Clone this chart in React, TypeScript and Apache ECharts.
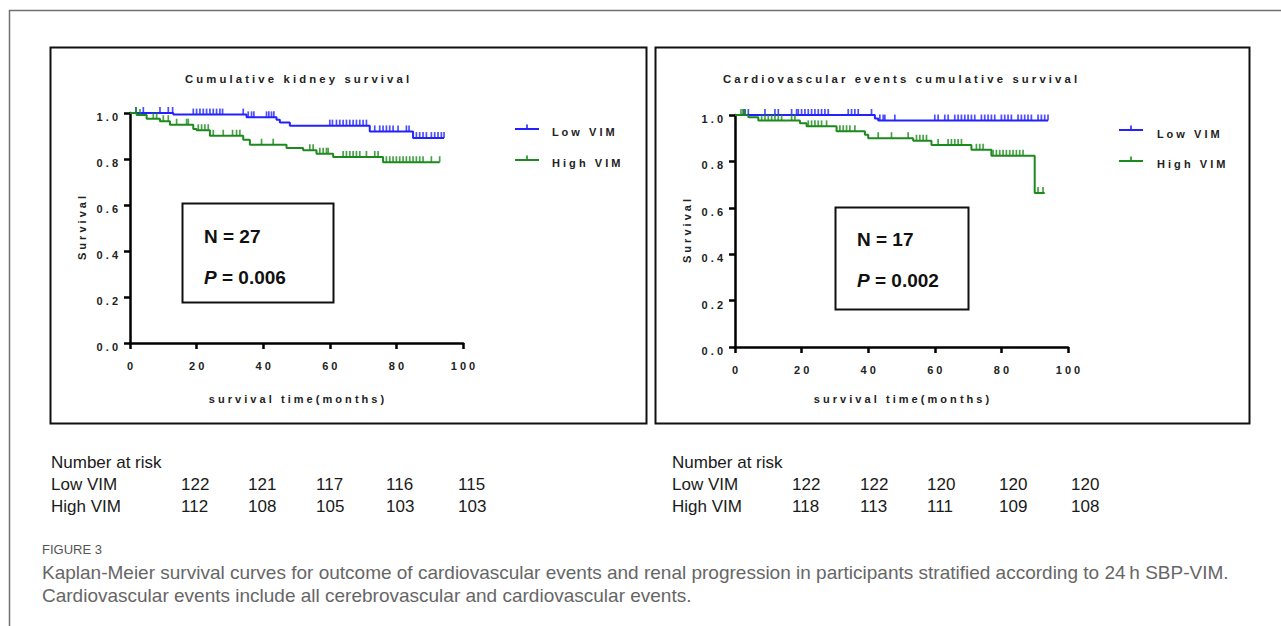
import React, { useEffect, useRef } from "react";
import * as echarts from "echarts";

// ---------- data ----------
const xTicks = [0, 20, 40, 60, 80, 100];
const seriesNames = ["Low VIM", "High VIM"];

// Kidney survival (left panel)
const kidneyLowTimes = [0, 13, 35, 44, 45, 48, 72, 85, 94.3];
const kidneyLowSurv = [1.0, 0.993, 0.981, 0.971, 0.959, 0.945, 0.92, 0.891, 0.891];
const kidneyLowCensor = [1.8, 4, 9, 11.5, 12.8, 19, 20, 21, 22, 23, 24, 25, 26, 27, 27.8, 34, 35.5, 36.5, 37.2, 41, 41.7, 42.5, 43.2, 60, 60.8, 62, 63, 64, 65, 66, 67, 68, 69, 70, 71, 73.5, 75, 76, 77, 78, 79, 80.5, 83, 83.8, 86, 87, 88, 89, 90.5, 91.5, 92.5, 93.5, 94.3];
const kidneyHighTimes = [0, 2, 5, 9, 12, 19, 20, 24, 34, 36, 47, 52, 56, 61, 76, 93];
const kidneyHighSurv = [1.0, 0.991, 0.975, 0.964, 0.949, 0.93, 0.925, 0.901, 0.884, 0.862, 0.848, 0.838, 0.823, 0.809, 0.786, 0.786];
const kidneyHighCensor = [1.8, 3, 7, 8, 10, 11.5, 14, 17, 17.5, 20.5, 21.5, 22.5, 23.5, 25, 28, 30.8, 32, 33, 39.5, 43, 54, 55, 57, 58, 59, 59.5, 64, 65, 66, 67, 68, 69, 71, 73.5, 74.5, 77, 78, 79, 80, 81, 82, 83, 84, 85, 86, 87, 88, 90.5, 93];

// Cardiovascular events survival (right panel)
const cvLowTimes = [0, 42, 43, 94];
const cvLowSurv = [1.0, 0.985, 0.976, 0.976];
const cvLowCensor = [2.5, 3, 4, 9, 12, 13, 17, 18.5, 19, 20, 21, 22, 23, 24, 25, 26, 27, 28, 34, 35, 36, 37, 41, 43.5, 44.5, 45, 48, 60, 61, 63, 64, 66, 67, 68, 69, 70, 71, 72, 74, 75, 76, 77, 78, 80, 81, 82, 83, 85, 86, 87, 88, 89, 91, 92, 93, 94];
const cvHighTimes = [0, 4, 7, 19.5, 21.5, 30.5, 39, 40, 53.5, 59, 71, 77, 90, 93];
const cvHighSurv = [1.0, 0.99, 0.976, 0.964, 0.951, 0.93, 0.915, 0.9, 0.889, 0.871, 0.85, 0.824, 0.664, 0.664];
const cvHighCensor = [1.8, 2.5, 3, 8, 9, 10, 11, 12, 13, 14, 17, 18, 22, 23, 24, 25, 26, 27.5, 31.5, 32.5, 33.5, 34.5, 36, 43, 47, 52, 54.5, 55.5, 56.5, 57.5, 61, 64, 65, 66, 67, 68, 72.5, 73.5, 74.5, 77.5, 78.5, 79.5, 80.5, 81.5, 82.5, 83.5, 84.5, 85.5, 86.5, 91, 92.5];

// Number at risk
const kidneyRiskLow = [122, 121, 117, 116, 115];
const kidneyRiskHigh = [112, 108, 105, 103, 103];
const cvRiskLow = [122, 122, 120, 120, 120];
const cvRiskHigh = [118, 113, 111, 109, 108];

const panelTitles = ["Cumulative kidney survival", "Cardiovascular events cumulative survival"];
const panelN = ["N = 27", "N = 17"];
const panelP = ["0.006", "0.002"];

const captionHead = "FIGURE 3";
const captionLine1 = "Kaplan-Meier survival curves for outcome of cardiovascular events and renal progression in participants stratified according to 24\u2009h SBP-VIM.";
const captionLine2 = "Cardiovascular events include all cerebrovascular and cardiovascular events.";

// ---------- helpers ----------
const FONT = "'Liberation Sans', Arial, sans-serif";
const BLUE = "#2222ff";
const GREEN = "#1c8a1c";
const spaced = (s: string) => s.split("").join(" ");

function survAt(times: number[], surv: number[], t: number) {
  let v = surv[0];
  for (let i = 0; i < times.length; i++) if (times[i] <= t) v = surv[i];
  return v;
}

function kmSeries(name: string, idx: number, times: number[], surv: number[], censor: number[], color: string) {
  return [
    {
      name,
      type: "line",
      xAxisIndex: idx,
      yAxisIndex: idx,
      step: "end",
      showSymbol: false,
      symbol: "none",
      clip: false,
      lineStyle: { color, width: 2 },
      itemStyle: { color },
      data: times.map((t, i) => [t, surv[i]]),
      z: 3,
    },
    {
      name,
      type: "scatter",
      xAxisIndex: idx,
      yAxisIndex: idx,
      clip: false,
      symbol: "rect",
      symbolSize: [1.7, 6],
      symbolOffset: [0, -3],
      itemStyle: { color },
      data: censor.map((t) => [t, survAt(times, surv, t)]),
      z: 4,
    },
  ];
}

const SP_FS = 11;
const axisLabelStyle = { fontSize: SP_FS, fontWeight: "bold", color: "#222", fontFamily: FONT };

export default function App() {
  const ref = useRef<HTMLDivElement>(null);
  useEffect(() => {
    if (!ref.current) return;
    const chart = echarts.init(ref.current, undefined, { renderer: "svg" });

    const grids = [
      { left: 130, top: 113, width: 333, height: 230 },
      { left: 735, top: 115, width: 333, height: 232 },
    ];
    const xNameGaps = [50, 46];

    const xAxes = grids.map((_, i) => ({
      gridIndex: i,
      type: "value",
      min: 0,
      max: 100,
      interval: 20,
      axisLine: { lineStyle: { color: "#000", width: 2.5 } },
      axisTick: { length: 6, lineStyle: { color: "#000", width: 2.5 } },
      axisLabel: { margin: 17, formatter: (v: number) => spaced(String(v)), ...axisLabelStyle },
      splitLine: { show: false },
      name: spaced("survival time(months)"),
      nameLocation: "middle",
      nameGap: xNameGaps[i],
      nameTextStyle: axisLabelStyle,
    }));

    const yAxes = grids.map((_, i) => ({
      gridIndex: i,
      type: "value",
      min: 0,
      max: 1,
      interval: 0.2,
      axisLine: { show: true, lineStyle: { color: "#000", width: 2.5 } },
      axisTick: { show: true, length: 6, lineStyle: { color: "#000", width: 2.5 } },
      axisLabel: {
        margin: 12,
        verticalAlign: "top",
        lineHeight: 8,
        formatter: (v: number) => spaced(v.toFixed(1)),
        ...axisLabelStyle,
      },
      splitLine: { show: false },
      name: spaced("Survival"),
      nameLocation: "middle",
      nameGap: 43,
      nameTextStyle: axisLabelStyle,
    }));

    const series = [
      ...kmSeries(seriesNames[0], 0, kidneyLowTimes, kidneyLowSurv, kidneyLowCensor, BLUE),
      ...kmSeries(seriesNames[1], 0, kidneyHighTimes, kidneyHighSurv, kidneyHighCensor, GREEN),
      ...kmSeries(seriesNames[0], 1, cvLowTimes, cvLowSurv, cvLowCensor, BLUE),
      ...kmSeries(seriesNames[1], 1, cvHighTimes, cvHighSurv, cvHighCensor, GREEN),
    ];

    const graphic: any[] = [];
    // outer frame
    graphic.push({
      type: "polyline",
      shape: { points: [[9.5, 626], [9.5, 10.5], [1281, 10.5]] },
      style: { stroke: "#707070", lineWidth: 1.5, fill: null },
      silent: true,
    });
    // panel frames
    const panels = [
      { x: 50.5, y: 47.5, width: 596, height: 376 },
      { x: 655.5, y: 47.5, width: 594, height: 376 },
    ];
    panels.forEach((p) =>
      graphic.push({ type: "rect", shape: p, style: { stroke: "#111", lineWidth: 2, fill: "rgba(0,0,0,0)" }, silent: true })
    );
    // titles
    const titlePos = [
      [297, 79],
      [900, 79],
    ];
    panelTitles.forEach((t, i) =>
      graphic.push({
        type: "text",
        x: titlePos[i][0],
        y: titlePos[i][1],
        style: { text: spaced(t), font: `bold 11.3px ${FONT}`, fill: "#222", textAlign: "center", textVerticalAlign: "middle" },
      })
    );
    // legends
    const legendPos = [
      { lx: 515, tx: 552, ys: [129, 160], tys: [132, 163] },
      { lx: 1119, tx: 1157, ys: [130, 161], tys: [134, 164] },
    ];
    legendPos.forEach((lp) => {
      seriesNames.forEach((n, k) => {
        const c = k === 0 ? BLUE : GREEN;
        graphic.push({ type: "line", shape: { x1: lp.lx, y1: lp.ys[k], x2: lp.lx + 24, y2: lp.ys[k] }, style: { stroke: c, lineWidth: 2 } });
        graphic.push({ type: "line", shape: { x1: lp.lx + 12, y1: lp.ys[k], x2: lp.lx + 12, y2: lp.ys[k] - 4.5 }, style: { stroke: c, lineWidth: 1.6 } });
        graphic.push({
          type: "text",
          x: lp.tx,
          y: lp.tys[k],
          style: { text: spaced(n), font: `bold 11px ${FONT}`, fill: "#222", textVerticalAlign: "middle" },
        });
      });
    });
    // annotation boxes
    const boxes = [
      { x: 182.5, y: 203.5, w: 151, h: 99, tx: 204, ny: 236, py: 277 },
      { x: 835.5, y: 207.5, w: 133, h: 102, tx: 857, ny: 239, py: 280 },
    ];
    boxes.forEach((b, i) => {
      graphic.push({ type: "rect", shape: { x: b.x, y: b.y, width: b.w, height: b.h }, style: { stroke: "#111", lineWidth: 2, fill: "rgba(0,0,0,0)" } });
      graphic.push({
        type: "text",
        x: b.tx,
        y: b.ny,
        style: { text: panelN[i], font: `bold 19px ${FONT}`, fill: "#111", textVerticalAlign: "middle" },
      });
      graphic.push({
        type: "text",
        x: b.tx,
        y: b.py,
        style: {
          text: `{i|P}{b| = ${panelP[i]}}`,
          textVerticalAlign: "middle",
          rich: {
            i: { font: `italic bold 19px ${FONT}`, fill: "#111" },
            b: { font: `bold 19px ${FONT}`, fill: "#111" },
          },
        },
      });
    });
    // number-at-risk tables
    const tables = [
      { x: 51, cols: [181, 248, 316, 386, 458], low: kidneyRiskLow, high: kidneyRiskHigh },
      { x: 672, cols: [792, 860, 927, 999, 1071], low: cvRiskLow, high: cvRiskHigh },
    ];
    const rowY = [462, 484, 506];
    const tStyle = { font: `17px ${FONT}`, fill: "#1a1a1a", textVerticalAlign: "middle" };
    tables.forEach((tb) => {
      graphic.push({ type: "text", x: tb.x, y: rowY[0], style: { ...tStyle, text: "Number at risk" } });
      graphic.push({ type: "text", x: tb.x, y: rowY[1], style: { ...tStyle, text: seriesNames[0] } });
      graphic.push({ type: "text", x: tb.x, y: rowY[2], style: { ...tStyle, text: seriesNames[1] } });
      tb.cols.forEach((cx, j) => {
        graphic.push({ type: "text", x: cx, y: rowY[1], style: { ...tStyle, text: String(tb.low[j]) } });
        graphic.push({ type: "text", x: cx, y: rowY[2], style: { ...tStyle, text: String(tb.high[j]) } });
      });
    });
    // caption
    graphic.push({ type: "text", x: 42, y: 549, style: { text: captionHead, font: `13px ${FONT}`, fill: "#555", textVerticalAlign: "middle" } });
    graphic.push({ type: "text", x: 42, y: 572, style: { text: captionLine1, font: `19px ${FONT}`, fill: "#666", textVerticalAlign: "middle" } });
    graphic.push({ type: "text", x: 42, y: 595, style: { text: captionLine2, font: `19px ${FONT}`, fill: "#666", textVerticalAlign: "middle" } });

    chart.setOption({
      animation: false,
      backgroundColor: "#fff",
      grid: grids,
      xAxis: xAxes,
      yAxis: yAxes,
      series,
      graphic,
    });
    return () => chart.dispose();
  }, []);

  return (
    <div
      ref={ref}
      style={{ position: "absolute", left: 0, top: 0, width: 1281, height: 626, background: "#fff" }}
    />
  );
}
